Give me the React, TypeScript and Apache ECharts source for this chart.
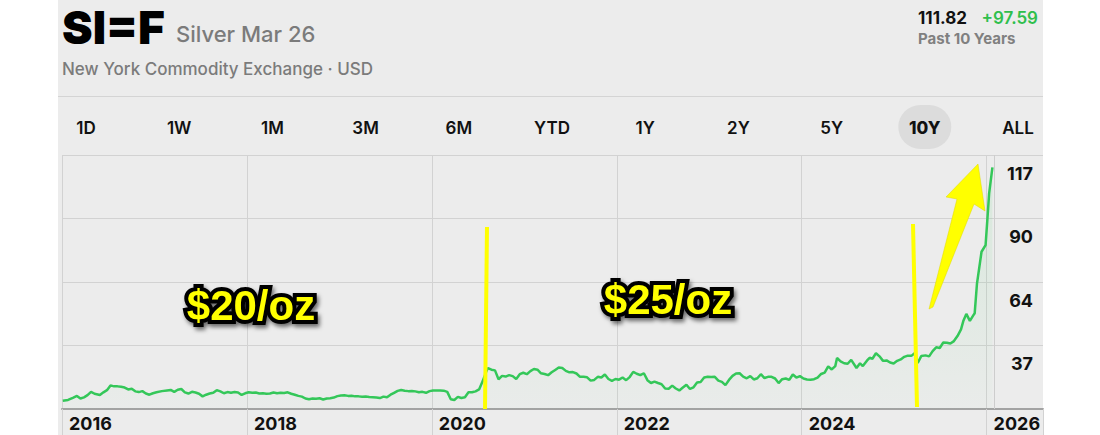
import React, { useEffect, useRef } from 'react';
import * as echarts from 'echarts';

// ---- data ----
const dates: string[] = [
  '2016-01-04','2016-01-25','2016-02-15','2016-02-29','2016-03-14','2016-03-28','2016-04-11','2016-04-25','2016-05-09','2016-05-30','2016-06-13','2016-06-27','2016-07-11','2016-07-25','2016-08-08','2016-08-22','2016-09-05','2016-09-19','2016-10-03','2016-10-17','2016-10-31','2016-11-14','2016-11-28','2016-12-12','2016-12-26',
  '2017-01-09','2017-01-30','2017-02-20','2017-03-06','2017-03-20','2017-04-03','2017-04-17','2017-05-01','2017-05-15','2017-05-29','2017-06-12','2017-06-26','2017-07-10','2017-07-24','2017-08-07','2017-08-21','2017-09-04','2017-09-18','2017-10-02','2017-10-16','2017-10-30','2017-11-13','2017-11-27','2017-12-11','2017-12-25',
  '2018-01-08','2018-01-22','2018-02-05','2018-02-19','2018-03-05','2018-03-19','2018-04-02','2018-04-16','2018-04-30','2018-05-14','2018-05-28','2018-06-11','2018-06-25','2018-07-09','2018-07-23','2018-08-06','2018-08-20','2018-09-03','2018-09-17','2018-10-01','2018-10-15','2018-10-29','2018-11-12','2018-11-26','2018-12-10','2018-12-24',
  '2019-01-07','2019-01-21','2019-02-04','2019-02-18','2019-03-04','2019-03-18','2019-04-01','2019-04-15','2019-04-29','2019-05-13','2019-05-27','2019-06-10','2019-06-24','2019-07-08','2019-07-22','2019-08-05','2019-08-19','2019-09-02','2019-09-16','2019-09-30','2019-10-14','2019-10-28','2019-11-11','2019-11-25','2019-12-09','2019-12-23',
  '2020-01-06','2020-01-20','2020-02-03','2020-02-17','2020-03-02','2020-03-16','2020-03-30','2020-04-13','2020-04-27','2020-05-11','2020-05-25','2020-06-08','2020-06-22','2020-07-06','2020-07-20','2020-08-03','2020-08-10','2020-08-24','2020-09-07','2020-09-21','2020-10-05','2020-10-19','2020-11-02','2020-11-16','2020-11-30','2020-12-14','2020-12-28',
  '2021-01-11','2021-01-25','2021-02-08','2021-02-22','2021-03-08','2021-03-22','2021-04-05','2021-04-19','2021-05-03','2021-05-17','2021-05-31','2021-06-14','2021-06-28','2021-07-12','2021-07-26','2021-08-09','2021-08-23','2021-09-06','2021-09-20','2021-10-04','2021-10-18','2021-11-01','2021-11-15','2021-11-29','2021-12-13','2021-12-27',
  '2022-01-10','2022-01-24','2022-02-07','2022-02-21','2022-03-07','2022-03-21','2022-04-04','2022-04-18','2022-05-02','2022-05-16','2022-05-30','2022-06-13','2022-06-27','2022-07-11','2022-07-25','2022-08-08','2022-08-22','2022-09-05','2022-09-19','2022-10-03','2022-10-17','2022-10-31','2022-11-14','2022-11-28','2022-12-12','2022-12-26',
  '2023-01-09','2023-01-23','2023-02-06','2023-02-20','2023-03-06','2023-03-20','2023-04-03','2023-04-17','2023-05-01','2023-05-15','2023-05-29','2023-06-12','2023-06-26','2023-07-10','2023-07-24','2023-08-07','2023-08-21','2023-09-04','2023-09-18','2023-10-02','2023-10-16','2023-10-30','2023-11-13','2023-11-27','2023-12-11','2023-12-25',
  '2024-01-08','2024-01-22','2024-02-05','2024-02-19','2024-03-04','2024-03-18','2024-04-01','2024-04-15','2024-04-29','2024-05-13','2024-05-20','2024-06-03','2024-06-17','2024-07-01','2024-07-15','2024-08-05','2024-08-19','2024-08-30','2024-09-16','2024-09-26','2024-10-07','2024-10-21','2024-11-04','2024-11-18','2024-12-02','2024-12-16','2024-12-30',
  '2025-01-13','2025-01-27','2025-02-10','2025-02-24','2025-03-10','2025-03-24','2025-04-04','2025-04-18','2025-05-05','2025-05-19','2025-06-02','2025-06-16','2025-06-30','2025-07-14','2025-07-28','2025-08-11','2025-08-25','2025-09-08','2025-09-22','2025-10-01','2025-10-13','2025-10-27','2025-11-10','2025-11-15','2025-11-24','2025-12-12','2025-12-28',
  '2026-01-03','2026-01-11','2026-01-24',
];

const prices: number[] = [
  13.9,14.2,15.2,15.9,14.8,15.3,16.2,17.6,16.8,16.3,17.4,18.3,20.3,19.9,19.9,19.7,19.4,18.6,18.9,17.8,17.5,17.9,16.9,16.4,17.0,
  17.4,17.9,18.2,18.4,17.6,18.5,18.8,17.4,16.9,17.6,17.3,16.8,15.7,16.4,16.9,17.2,18.3,17.8,17.0,17.5,17.2,17.5,17.3,16.3,17.0,
  17.4,17.2,17.3,16.9,17.0,16.8,16.9,17.3,17.0,17.2,17.1,17.4,16.8,16.4,15.9,15.6,14.8,14.5,14.8,14.7,14.9,14.4,14.8,14.9,15.2,15.8,
  16.1,16.2,15.9,16.0,15.7,15.7,15.5,15.6,15.4,15.3,15.2,15.0,15.6,15.3,16.4,17.2,18.0,18.4,18.1,17.9,18.0,17.8,17.4,17.6,17.2,17.9,
  18.2,18.2,18.2,18.1,17.6,14.5,14.2,15.5,15.0,15.3,17.4,17.4,17.8,18.6,22.0,26.0,27.6,26.9,26.6,22.9,24.3,24.0,24.6,24.2,23.0,25.0,25.6,
  25.0,26.3,27.2,26.9,25.4,25.1,24.6,25.8,26.8,27.8,27.6,26.4,25.8,25.9,25.3,23.9,23.9,23.7,22.3,22.6,23.9,23.6,24.9,23.0,22.2,23.0,
  22.7,23.6,22.5,23.8,26.0,25.2,24.6,25.4,22.5,21.3,21.9,21.3,20.8,19.0,18.9,20.2,19.0,18.2,19.4,20.6,18.8,19.5,21.5,21.7,23.6,23.9,
  23.8,23.9,22.3,21.8,20.4,22.6,24.3,25.3,25.4,24.0,23.3,24.2,22.8,23.3,25.0,23.4,23.9,23.9,23.2,21.3,22.9,23.2,22.6,24.9,23.6,24.2,
  23.2,22.8,22.7,22.9,23.6,25.1,25.7,28.3,27.0,28.4,31.8,30.4,29.6,29.4,31.0,27.6,29.6,28.4,30.8,31.9,31.5,33.8,32.5,30.6,30.8,29.9,29.5,
  30.6,31.2,32.3,32.8,32.7,33.9,29.7,32.6,32.9,32.5,34.7,36.3,36.0,38.3,38.2,37.9,38.9,41.0,43.8,47.3,50.3,47.4,49.8,50.6,63.0,76.4,79.2,
  88.3,100.9,111.8,
];

const rangeButtons: string[] = ['1D', '1W', '1M', '3M', '6M', 'YTD', '1Y', '2Y', '5Y', '10Y', 'ALL'];
const activeRange = '10Y';

const xMin = 2016;
const xMax = 2026.61;
const xInterval = 2;
const yMin = 10.4;
const yMax = 117;
const yInterval = 26.65;
const nowMarker = 2026.08;

const tickerText = 'SI=F';
const nameText = 'Silver Mar 26';
const exchangeText = 'New York Commodity Exchange · USD';
const lastPriceText = '111.82';
const changeText = '+97.59';
const periodText = 'Past 10 Years';
const noteLeft = '$20/oz';
const noteRight = '$25/oz';

function decimalYear(s: string): number {
  const [y, m, d] = s.split('-').map(Number);
  const start = Date.UTC(y, 0, 1);
  const end = Date.UTC(y + 1, 0, 1);
  return y + (Date.UTC(y, m - 1, d) - start) / (end - start);
}

const UI_FONT = 'Inter, "Liberation Sans", "DejaVu Sans", sans-serif';
const NOTE_FONT = '"Liberation Sans", Arial, sans-serif';

export default function App() {
  const ref = useRef<HTMLDivElement>(null);

  useEffect(() => {
    if (!ref.current) return;
    const chart = echarts.init(ref.current, undefined, { renderer: 'svg' });

    const seriesData = dates.map((d, i) => [decimalYear(d), prices[i]]);

    const buttonGraphics: any[] = [];
    rangeButtons.forEach((b, i) => {
      const cx = 86 + i * 93.2;
      if (b === activeRange) {
        buttonGraphics.push({
          type: 'rect',
          z: 50,
          shape: { x: cx - 26.5, y: 105, width: 53, height: 44, r: 22 },
          style: { fill: '#dcdcdc' },
        });
      }
      buttonGraphics.push({
        type: 'text',
        z: 51,
        x: cx,
        y: 128,
        style: {
          text: b,
          font: `${b === activeRange ? 800 : 600} 17px ${UI_FONT}`,
          fill: '#111111',
          textAlign: 'center',
          textVerticalAlign: 'middle',
        },
      });
    });

    const noteStyle = (text: string) => ({
      text,
      font: `bold 42px ${NOTE_FONT}`,
      fill: '#ffff00',
      stroke: '#000000',
      lineWidth: 8,
      lineJoin: 'round',
      textAlign: 'center',
      textVerticalAlign: 'middle',
      textShadowColor: 'rgba(0,0,0,0.55)',
      textShadowBlur: 4,
      textShadowOffsetX: 2,
      textShadowOffsetY: 3,
    });

    const option: any = {
      animation: false,
      backgroundColor: 'transparent',
      grid: {
        left: 62,
        right: 57,
        top: 155,
        bottom: 26,
        containLabel: false,
        outerBoundsMode: 'none',
      },
      xAxis: {
        type: 'value',
        min: xMin,
        max: xMax,
        interval: xInterval,
        axisLine: { show: true, onZero: false, lineStyle: { color: '#a3a3a3', width: 2 } },
        axisTick: { show: true, inside: false, length: 26, lineStyle: { color: '#d2d2d2', width: 1 } },
        splitLine: { show: true, showMaxLine: false, lineStyle: { color: '#d2d2d2', width: 1 } },
        axisLabel: {
          show: true,
          formatter: (v: number) => (Math.abs(v - Math.round(v)) < 1e-6 ? String(Math.round(v)) : ''),
          align: 'left',
          verticalAlign: 'top',
          padding: [0, 0, 0, 7],
          margin: 5,
          color: '#111111',
          fontFamily: UI_FONT,
          fontWeight: 'bold',
          fontSize: 18,
        },
      },
      yAxis: {
        type: 'value',
        position: 'right',
        min: yMin,
        max: yMax,
        interval: yInterval,
        axisLine: { show: false },
        axisTick: { show: false },
        splitLine: { show: true, showMinLine: false, lineStyle: { color: '#d2d2d2', width: 1 } },
        axisLabel: {
          inside: true,
          margin: 10,
          formatter: (v: number) => (v < yMin + 1 ? '' : String(Math.round(v))),
          color: '#111111',
          fontFamily: UI_FONT,
          fontWeight: 'bold',
          fontSize: 18,
          verticalAlign: 'top',
          lineHeight: 36,
        },
      },
      series: [
        {
          type: 'line',
          data: seriesData,
          showSymbol: false,
          symbol: 'none',
          smooth: false,
          lineStyle: { color: '#34c759', width: 2.5 },
          itemStyle: { color: '#34c759' },
          areaStyle: {
            origin: 'start',
            color: new echarts.graphic.LinearGradient(0, 0, 0, 1, [
              { offset: 0, color: 'rgba(52,199,89,0.16)' },
              { offset: 1, color: 'rgba(52,199,89,0.02)' },
            ]),
          },
          markLine: {
            silent: true,
            symbol: ['none', 'none'],
            label: { show: false },
            lineStyle: { color: '#cdcdcd', width: 1, type: 'solid' },
            data: [{ xAxis: nowMarker }],
          },
        },
      ],
      graphic: [
        {
          type: 'text', z: 50, x: 62, y: 27,
          style: { text: tickerText, font: `900 46px ${UI_FONT}`, fill: '#000000', textAlign: 'left', textVerticalAlign: 'middle' },
        },
        {
          type: 'text', z: 50, x: 176, y: 34,
          style: { text: nameText, font: `500 22px ${UI_FONT}`, fill: '#7b7b7b', textAlign: 'left', textVerticalAlign: 'middle' },
        },
        {
          type: 'text', z: 50, x: 62, y: 69,
          style: { text: exchangeText, font: `500 17px ${UI_FONT}`, fill: '#7b7b7b', textAlign: 'left', textVerticalAlign: 'middle' },
        },
        {
          type: 'text', z: 50, x: 918, y: 18,
          style: { text: lastPriceText, font: `bold 17px ${UI_FONT}`, fill: '#111111', textAlign: 'left', textVerticalAlign: 'middle' },
        },
        {
          type: 'text', z: 50, x: 1038, y: 18,
          style: { text: changeText, font: `600 17px ${UI_FONT}`, fill: '#2fbf4c', textAlign: 'right', textVerticalAlign: 'middle' },
        },
        {
          type: 'text', z: 50, x: 918, y: 38,
          style: { text: periodText, font: `bold 15px ${UI_FONT}`, fill: '#808080', textAlign: 'left', textVerticalAlign: 'middle' },
        },
        {
          type: 'line', z: 50,
          shape: { x1: 58, y1: 96.5, x2: 1043, y2: 96.5 },
          style: { stroke: '#d4d4d4', lineWidth: 1 },
        },
        ...buttonGraphics,
        {
          type: 'line', z: 100,
          shape: { x1: 487, y1: 227, x2: 485, y2: 409 },
          style: { stroke: '#ffff00', lineWidth: 4 },
        },
        {
          type: 'line', z: 100,
          shape: { x1: 913, y1: 224, x2: 917, y2: 407 },
          style: { stroke: '#ffff00', lineWidth: 4 },
        },
        {
          type: 'polygon', z: 100,
          shape: {
            points: [
              [929, 309], [957, 199], [946, 197], [978, 164], [985, 211], [974, 204], [933, 307],
            ],
          },
          style: { fill: '#ffff00', stroke: '#e0d800', lineWidth: 0.5 },
        },
        { type: 'text', z: 100, x: 251, y: 305, style: noteStyle(noteLeft) },
        { type: 'text', z: 100, x: 668, y: 299, style: noteStyle(noteRight) },
      ],
    };

    chart.setOption(option);
    return () => chart.dispose();
  }, []);

  return (
    <div
      ref={ref}
      style={{
        position: 'fixed',
        left: 0,
        top: 0,
        width: 1100,
        height: 435,
        background:
          'linear-gradient(to right, #ffffff 0px, #ffffff 58px, #ececec 58px, #ececec 1043px, #ffffff 1043px, #ffffff 1100px)',
      }}
    />
  );
}
